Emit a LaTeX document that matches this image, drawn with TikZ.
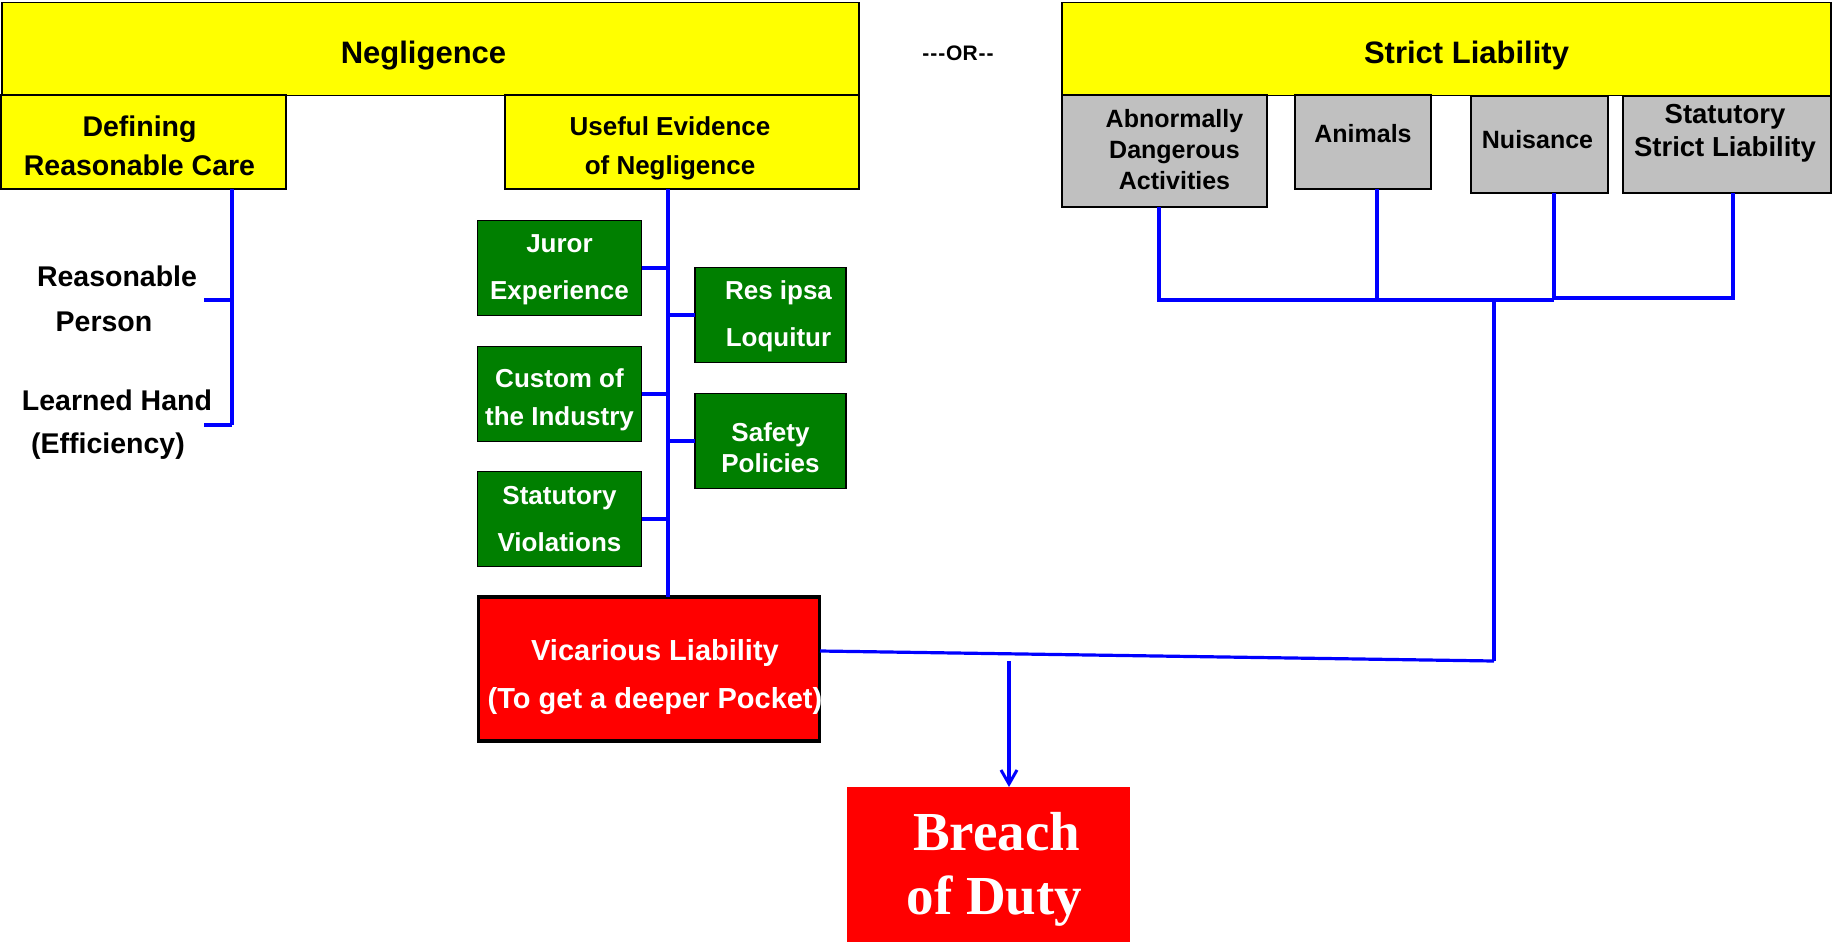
\documentclass[tikz,border=0pt]{standalone}
\usepackage{fontspec}
\setmainfont{Liberation Sans}
\newfontfamily\breachfont{Liberation Serif}
\usetikzlibrary{arrows.meta}
\definecolor{ylw}{HTML}{FFFF00}
\definecolor{gry}{HTML}{C0C0C0}
\definecolor{grn}{HTML}{007F00}
\definecolor{rd}{HTML}{FF0000}
\definecolor{bl}{HTML}{0000FF}
\tikzset{
  box/.style={draw=black, line width=1.6pt, inner sep=0pt, outer sep=0pt, align=center},
  ybox/.style={box, fill=ylw},
  gybox/.style={box, fill=gry},
  gnbox/.style={box, fill=grn, text=white},
  conn/.style={draw=bl, line width=3.2pt},
  plain/.style={inner sep=0pt, outer sep=0pt, font=\bfseries\fontsize{28.5}{34}\selectfont, align=center},
  gytext/.style={plain, font=\bfseries\fontsize{25}{31}\selectfont},
  wtext/.style={plain, text=white},
}
\begin{document}
\begin{tikzpicture}[x=1pt,y=-1pt]
\useasboundingbox (0,0) rectangle (1832,943);

% top level
\node[ybox, minimum width=857pt, minimum height=93pt] (neg) at (430.5,49) {};
\node[plain, font=\bfseries\fontsize{31}{36}\selectfont] (negt) at ([shift={(-7,7)}]neg.center) {Negligence};
\node[ybox, minimum width=769pt, minimum height=93pt] (sl) at (1446.5,49) {};
\node[plain, font=\bfseries\fontsize{31}{36}\selectfont] (slt) at ([shift={(20,6)}]sl.center) {Strict Liability};
\node[plain, font=\bfseries\fontsize{21}{24}\selectfont] (or) at (958,53) {-\kern1pt-\kern1pt-\kern1pt OR\kern1pt-\kern1pt-};

% negligence children
\node[ybox, minimum width=285pt, minimum height=94pt] (def) at (143.5,142) {};
\node[plain, font=\bfseries\fontsize{28.5}{39}\selectfont] (deft) at ([shift={(-4,3.5)}]def.center) {Defining\\Reasonable Care};
\node[ybox, minimum width=354pt, minimum height=94pt] (use) at (682,142) {};
\node[plain, font=\bfseries\fontsize{26}{39}\selectfont] (uset) at ([shift={(-12,6)}]use.center) {Useful Evidence\\of Negligence};

% strict liability children
\node[gybox, minimum width=205pt, minimum height=112pt] (abn) at (1164.5,151) {};
\node[gytext] (abnt) at ([shift={(10,-1)}]abn.center) {Abnormally\\Dangerous\\Activities};
\node[gybox, minimum width=136pt, minimum height=94pt] (ani) at (1363,142) {};
\node[gytext] (anit) at ([shift={(0,-8)}]ani.center) {Animals};
\node[gybox, minimum width=137pt, minimum height=97pt] (nui) at (1539.5,144.5) {};
\node[gytext] (nuit) at ([shift={(-2,-4.5)}]nui.center) {Nuisance};
\node[gybox, minimum width=208pt, minimum height=97pt] (ssl) at (1727,144.5) {};
\node[gytext, font=\bfseries\fontsize{27.5}{33}\selectfont] (sslt) at ([shift={(-2,-11)}]ssl.center) {Statutory\\Strict Liability};

% reasonable care texts
\node[plain] (rp1) at (117,276) {Reasonable};
\node[plain] (rp2) at (104,322) {Person};
\node[plain] (lh1) at (117,400) {Learned Hand};
\node[plain] (lh2) at (108,446.5) {(Efficiency)};
\coordinate (dtop) at (232,189);
\coordinate (dmid) at (232,300);
\coordinate (dbot) at (232,425);
\coordinate (tk1) at (204,300);
\coordinate (tk2) at (204,425);
\draw[conn] (def.south -| dtop) -- (dbot);
\draw[conn] (tk1) -- (dmid);
\draw[conn] (tk2) -- (dbot);

% green evidence boxes
\node[gnbox, minimum width=164pt, minimum height=95pt] (jur) at (559.5,268) {};
\node[wtext, font=\bfseries\fontsize{26}{47}\selectfont] (jurt) at ([shift={(0,2)}]jur.center) {Juror\\Experience};
\node[gnbox, minimum width=164pt, minimum height=95pt] (cus) at (559.5,394) {};
\node[wtext, font=\bfseries\fontsize{26}{38}\selectfont] (cust) at ([shift={(0,6)}]cus.center) {Custom of\\the Industry};
\node[gnbox, minimum width=164pt, minimum height=95pt] (sv) at (559.5,519) {};
\node[wtext, font=\bfseries\fontsize{26}{47}\selectfont] (svt) at (sv.center) {Statutory\\Violations};
\node[gnbox, minimum width=151pt, minimum height=95pt] (res) at (770.5,315) {};
\node[wtext, font=\bfseries\fontsize{26}{47}\selectfont] (rest) at ([shift={(8,1)}]res.center) {Res ipsa\\Loquitur};
\node[gnbox, minimum width=151pt, minimum height=95pt] (saf) at (770.5,441) {};
\node[wtext, font=\bfseries\fontsize{26}{31}\selectfont] (saft) at ([shift={(0,7)}]saf.center) {Safety\\Policies};

% vicarious liability and breach
\node[box, fill=rd, line width=3.5pt, minimum width=341pt, minimum height=144pt] (vic) at (649,669) {};
\node[wtext, font=\bfseries\fontsize{29}{48}\selectfont] (vict) at ([shift={(6,8.5)}]vic.center) {Vicarious Liability\\(To get a deeper Pocket)};
\node[inner sep=0pt, outer sep=0pt, fill=rd, minimum width=283pt, minimum height=155pt] (br) at (988.5,864.5) {};
\node[wtext, font=\breachfont\bfseries\fontsize{55}{64}\selectfont] (brt) at ([shift={(6,5)}]br.center) {\hspace*{4pt}Breach\\of Duty};

% evidence spine
\coordinate (sp) at (668,189);
\draw[conn] (use.south -| sp) -- (vic.north -| sp);
\draw[conn] (jur.east) -- (jur.east -| sp);
\draw[conn] (cus.east) -- (cus.east -| sp);
\draw[conn] (sv.east) -- (sv.east -| sp);
\draw[conn] (res.west) -- (res.west -| sp);
\draw[conn] (saf.west) -- (saf.west -| sp);

% strict liability bracket
\coordinate (h1) at (1159,300);
\coordinate (h2) at (1377,300);
\coordinate (h3) at (1554,300);
\coordinate (h3b) at (1554,298);
\coordinate (h4) at (1733,298);
\coordinate (hj) at (1494,300);
\coordinate (hj2) at (1494,661);
\draw[conn] (abn.south -| h1) -- (h1) -- (h3);
\draw[conn] (ani.south -| h2) -- (h2);
\draw[conn] (nui.south -| h3) -- (h3);
\draw[conn] (ssl.south -| h4) -- (h4) -- (h3b);
\draw[conn] (hj) -- (hj2);
\coordinate (vicr) at (820,651);
\draw[conn] (vicr) -- (hj2);
\coordinate (arst) at (1009,661);
\draw[conn, -{Straight Barb[length=14pt,width=16pt,line width=3pt]}] (arst) -- (br.north -| arst);
\end{tikzpicture}
\end{document}
